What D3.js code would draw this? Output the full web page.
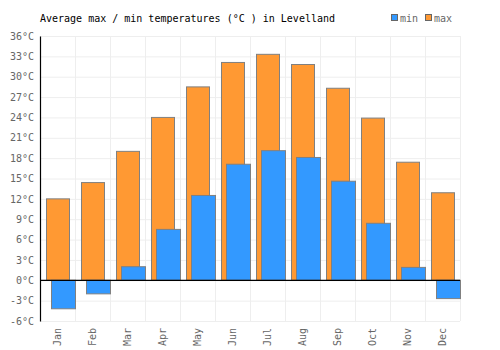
<!DOCTYPE html>
<html>
<head>
<meta charset="utf-8">
<script src="https://cdn.jsdelivr.net/npm/d3@7"></script>
<style>
  body { margin: 0; background: #fff; }
  svg { display: block; font-family: "DejaVu Sans Mono", monospace; }
</style>
</head>
<body>
<svg id="chart" width="500" height="350"></svg>
<script>
// monthly averages
const months = ["Jan", "Feb", "Mar", "Apr", "May", "Jun", "Jul", "Aug", "Sep", "Oct", "Nov", "Dec"];
const maxTemps = [12, 14.4, 19, 24, 28.5, 32.1, 33.3, 31.8, 28.3, 23.9, 17.4, 12.9];
const minTemps = [-4.2, -2, 2, 7.5, 12.5, 17.1, 19.1, 18.1, 14.6, 8.4, 1.9, -2.7];
const yTicks = [-6, -3, 0, 3, 6, 9, 12, 15, 18, 21, 24, 27, 30, 33, 36];

const MIN_COL = "#3399ff";
const MAX_COL = "#ff9933";
const BAR_STROKE = "#808080";

const svg = d3.select("#chart");
const margin = { top: 36, right: 40, bottom: 29, left: 40 };
const width = 500 - margin.left - margin.right;
const height = 350 - margin.top - margin.bottom;

const g = svg.append("g").attr("transform", `translate(${margin.left},${margin.top})`);

const x = d3.scaleBand().domain(months).range([0, width]);
const y = d3.scaleLinear().domain([-6, 36]).range([height, 0]);

// grid
g.append("g")
  .selectAll("line.h")
  .data(yTicks)
  .join("line")
  .attr("x1", 0)
  .attr("x2", width)
  .attr("y1", (d) => y(d) + 0.5)
  .attr("y2", (d) => y(d) + 0.5)
  .attr("stroke", "#eeeeee");

g.append("g")
  .selectAll("line.v")
  .data(months)
  .join("line")
  .attr("x1", (d) => x(d) + x.bandwidth() + 0.5)
  .attr("x2", (d) => x(d) + x.bandwidth() + 0.5)
  .attr("y1", 0)
  .attr("y2", height)
  .attr("stroke", "#eeeeee");

const bw = x.bandwidth();

// max bars (behind)
g.append("g")
  .selectAll("rect")
  .data(months)
  .join("rect")
  .attr("x", (d) => x(d) + 6.5)
  .attr("width", 23)
  .attr("y", (d, i) => y(Math.max(0, maxTemps[i])))
  .attr("height", (d, i) => Math.abs(y(maxTemps[i]) - y(0)))
  .attr("fill", MAX_COL)
  .attr("stroke", BAR_STROKE)
  .attr("stroke-width", 1);

// min bars (front)
g.append("g")
  .selectAll("rect")
  .data(months)
  .join("rect")
  .attr("x", (d) => x(d) + 11.5)
  .attr("width", 24)
  .attr("y", (d, i) => y(Math.max(0, minTemps[i])))
  .attr("height", (d, i) => Math.abs(y(minTemps[i]) - y(0)))
  .attr("fill", MIN_COL)
  .attr("stroke", BAR_STROKE)
  .attr("stroke-width", 1);

// zero line
g.append("line")
  .attr("x1", 0)
  .attr("x2", width)
  .attr("y1", y(0))
  .attr("y2", y(0))
  .attr("stroke", "#000")
  .attr("stroke-width", 1.2);

// y axis
const yAxis = g.append("g")
  .call(d3.axisLeft(y).tickValues(yTicks).tickSize(0).tickPadding(6).tickFormat((d) => d + "°C"));
yAxis.select(".domain").attr("stroke", "#000").attr("stroke-width", 1.2);
yAxis.selectAll("text")
  .attr("fill", "#666")
  .style("font-size", "10px")
  .style("font-family", "DejaVu Sans Mono, monospace");

// x axis labels, rotated
const xAxis = g.append("g")
  .attr("transform", `translate(0,${height})`)
  .call(d3.axisBottom(x).tickSize(0).tickPadding(6));
xAxis.select(".domain").remove();
xAxis.selectAll("text")
  .attr("fill", "#666")
  .style("font-size", "10px")
  .style("font-family", "DejaVu Sans Mono, monospace")
  .attr("transform", "rotate(-90)")
  .attr("text-anchor", "end")
  .attr("x", -7)
  .attr("y", 0)
  .attr("dy", "0.35em");

// title
svg.append("text")
  .attr("x", 40)
  .attr("y", 22)
  .attr("font-size", 10)
  .attr("fill", "#000")
  .text("Average max / min temperatures (°C ) in Levelland");

// legend
const legend = [
  { label: "min", color: MIN_COL, x: 391 },
  { label: "max", color: MAX_COL, x: 425 },
];
const lg = svg.append("g").selectAll("g").data(legend).join("g");
lg.append("rect")
  .attr("x", (d) => d.x + 0.5)
  .attr("y", 14.5)
  .attr("width", 6)
  .attr("height", 6)
  .attr("fill", (d) => d.color)
  .attr("stroke", "#666");
lg.append("text")
  .attr("x", (d) => d.x + 9)
  .attr("y", 22)
  .attr("font-size", 10)
  .attr("fill", "#666")
  .text((d) => d.label);
</script>
</body>
</html>
